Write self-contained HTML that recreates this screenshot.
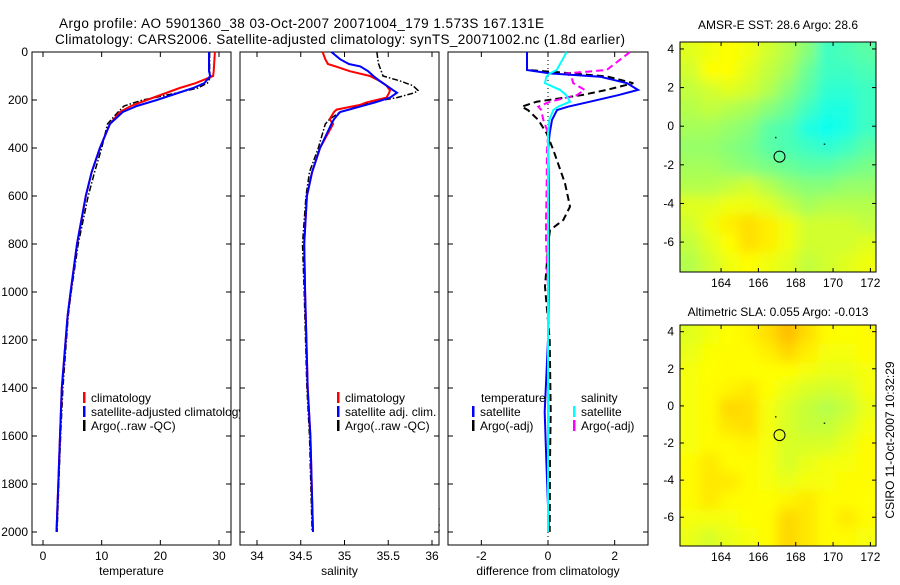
<!DOCTYPE html>
<html><head><meta charset="utf-8"><style>
html,body{margin:0;padding:0;background:#fff;}
svg text{font-family:"Liberation Sans",sans-serif;fill:#000;}
</style></head><body>
<svg id="fig" width="900" height="580" viewBox="0 0 900 580" xmlns="http://www.w3.org/2000/svg">
<rect width="900" height="580" fill="#fff"/>
<text x="59" y="28" font-size="13.5" textLength="485">Argo profile: AO 5901360_38 03-Oct-2007 20071004_179 1.573S 167.131E</text>
<text x="55" y="44" font-size="13.5" textLength="570">Climatology: CARS2006. Satellite-adjusted climatology: synTS_20071002.nc (1.8d earlier)</text>
<text x="778" y="29" font-size="12" text-anchor="middle">AMSR-E SST: 28.6 Argo: 28.6</text>
<text x="778" y="316" font-size="12" text-anchor="middle">Altimetric SLA: 0.055 Argo: -0.013</text>
<text transform="translate(894,440) rotate(-90)" font-size="12" text-anchor="middle">CSIRO 11-Oct-2007 10:32:29</text>
<text x="326" y="517" font-size="12">US ARGO PROJECT</text>
<text x="326" y="531" font-size="12">PI: STEPHEN RISER</text>
</svg>
<script>
// ---- data ----
const tDepth=[0,80,100,130,150,175,200,225,250,300,400,500,600,800,1000,1100,1400,1600,1800,2000];
const tClim=[29.3,29.1,29.0,26.0,23.3,20.5,17.7,15.0,13.1,11.4,9.7,8.3,7.3,5.8,4.7,4.2,3.2,2.9,2.6,2.3];
const tSat=[28.3,28.3,28.5,27.5,25.6,22.5,19.4,16.0,13.6,11.4,9.7,8.3,7.3,5.8,4.7,4.2,3.2,2.9,2.6,2.3];
const tArgo=[28.4,28.4,28.6,28.0,26.4,22.0,17.0,13.8,12.8,11.0,10.0,8.8,7.7,6.0,4.8,4.3,3.4,3.0,2.7,2.4];
const sDepth=[0,30,50,60,80,100,120,140,160,170,190,210,220,240,250,280,300,400,500,600,800,1000,1400,1600,2000];
const sClim=[34.75,34.78,34.81,34.9,35.06,35.29,35.4,35.48,35.52,35.51,35.48,35.25,35.18,34.91,34.88,34.83,34.87,34.72,34.63,34.57,34.54,34.55,34.58,34.61,34.64];
const sSat=[34.85,34.95,35.05,35.18,35.27,35.33,35.4,35.48,35.56,35.6,35.52,35.35,35.25,35.05,34.95,34.88,34.85,34.72,34.63,34.57,34.54,34.55,34.58,34.61,34.64];
const sArgo=[35.37,35.38,35.39,35.4,35.42,35.44,35.63,35.78,35.84,35.8,35.6,35.3,35.2,35.05,34.95,34.83,34.78,34.7,34.6,34.56,34.52,34.54,34.57,34.6,34.63];
const dDepth=[0,75,89,103,130,158,180,207,228,242,283,339,408,547,644,700,742,783,978,1200,1500,1700,2000];
const dTempSat=[-0.63,-0.63,0.05,1.56,2.37,2.7,2.1,1.26,0.6,0.27,0.12,0.05,0.0,0.02,0.03,0.03,0.03,0.03,0.02,0.0,-0.1,-0.05,0.03];
const dTempArgo=[-0.63,-0.63,0.76,1.8,2.56,1.76,1.0,-0.34,-0.79,-0.6,-0.29,-0.04,0.16,0.51,0.66,0.46,0.06,0.02,-0.09,0.05,0.08,0.06,0.05];
const dSalSat=[0.56,0.26,0.06,-0.05,-0.09,0.36,0.55,0.66,0.3,0.16,0.04,0.0,0.0,0.0,0.0,0.0,0.0,0.0,0.0,0.0,0.0,0.0,0.0];
const dSalArgo=[2.46,1.76,0.56,0.7,0.76,1.1,0.86,0.06,-0.29,-0.2,-0.14,0.01,-0.03,-0.04,-0.05,-0.06,-0.06,-0.06,0.0,0.0,0.0,0.0,0.0];
const sstGrid=[
[0.75,0.8,0.85,0.8,0.7,0.6,0.45,0.2,0.25,0.3],
[0.7,0.85,0.85,0.75,0.65,0.55,0.35,0.2,0.2,0.25],
[0.65,0.7,0.75,0.7,0.6,0.45,0.3,0.15,0.15,0.2],
[0.6,0.65,0.6,0.55,0.45,0.35,0.2,0.1,0.1,0.2],
[0.55,0.55,0.5,0.45,0.3,0.25,0.1,0.05,0.1,0.2],
[0.5,0.5,0.45,0.4,0.3,0.25,0.2,0.15,0.2,0.3],
[0.55,0.55,0.5,0.45,0.4,0.35,0.3,0.3,0.35,0.4],
[0.6,0.6,0.65,0.7,0.6,0.5,0.45,0.45,0.5,0.5],
[0.75,0.75,0.8,0.8,0.75,0.65,0.55,0.6,0.6,0.6],
[0.7,0.8,0.9,0.95,0.9,0.8,0.7,0.7,0.7,0.65],
[0.65,0.75,0.85,0.95,0.9,0.8,0.7,0.7,0.7,0.75],
[0.6,0.7,0.8,0.85,0.8,0.75,0.65,0.7,0.75,0.8]];
const slaGrid=[
[0.75,0.8,0.85,0.88,0.95,1.05,0.95,0.86,0.84,0.86],
[0.78,0.84,0.86,0.86,0.9,0.97,0.9,0.82,0.82,0.86],
[0.82,0.85,0.86,0.85,0.85,0.85,0.82,0.78,0.78,0.82],
[0.82,0.86,0.88,0.92,0.85,0.78,0.72,0.7,0.72,0.82],
[0.82,0.86,0.97,0.95,0.82,0.72,0.66,0.6,0.66,0.78],
[0.82,0.86,0.93,0.95,0.82,0.72,0.66,0.66,0.72,0.82],
[0.82,0.86,0.86,0.88,0.82,0.72,0.72,0.72,0.78,0.86],
[0.86,0.92,0.86,0.86,0.82,0.72,0.78,0.82,0.82,0.86],
[0.86,0.92,0.92,0.86,0.82,0.78,0.82,0.82,0.86,0.86],
[0.86,0.92,0.86,0.86,0.85,0.88,0.92,0.86,0.86,0.85],
[0.82,0.82,0.82,0.85,0.86,0.97,0.92,0.86,0.92,0.86],
[0.78,0.72,0.78,0.82,0.86,0.97,0.92,0.86,0.86,0.82]];
const tempTicks=[0,10,20,30];
const salTicks=[34,34.5,35,35.5,36];
const diffTicks=[-2,0,2];
const depthTicks=[0,200,400,600,800,1000,1200,1400,1600,1800,2000];
const lonTicks=[164,166,168,170,172];
const latTicks=[4,2,0,-2,-4,-6];

const svg=document.getElementById('fig');
const NS='http://www.w3.org/2000/svg';
function mk(tag,attrs,parent){const e=document.createElementNS(NS,tag);for(const k in attrs)e.setAttribute(k,attrs[k]);(parent||svg).appendChild(e);return e;}
function lin(d0,d1,r0,r1){return v=>r0+(v-d0)*(r1-r0)/(d1-d0);}
const Y0=52,Y1=545;
const yD=lin(0,2000,52,532);

function panel(name,x0,x1,xs,ticks,fmt,xlabel,showY){
  const g=mk('g',{});
  
  
  mk('rect',{x:x0,y:Y0,width:x1-x0,height:Y1-Y0,fill:'#fff',stroke:'#000','stroke-width':1},g);
  ticks.forEach(t=>{const x=xs(t);
    mk('line',{x1:x,y1:Y1,x2:x,y2:Y1-5,stroke:'#000'},g);
    mk('line',{x1:x,y1:Y0,x2:x,y2:Y0+5,stroke:'#000'},g);
    const tx=mk('text',{x:x,y:Y1+15,'font-size':12,'text-anchor':'middle'},g);tx.textContent=fmt(t);
    
    
  });
  depthTicks.forEach(d=>{const y=yD(d);
    mk('line',{x1:x0,y1:y,x2:x0+5,y2:y,stroke:'#000'},g);
    mk('line',{x1:x1,y1:y,x2:x1-5,y2:y,stroke:'#000'},g);
    if(showY){const tx=mk('text',{x:x0-4,y:y+4,'font-size':12,'text-anchor':'end'},g);tx.textContent=d;
      
      }
  });
  const xl=mk('text',{x:(x0+x1)/2,y:575,'font-size':12,'text-anchor':'middle'},g);xl.textContent=xlabel;
  
  
  return g;
}
function line(g,name,xs,vals,depths,color,w,dash){
  const pts=vals.map((v,i)=>xs(v).toFixed(1)+','+yD(depths[i]).toFixed(1)).join(' ');
  const p=mk('polyline',{points:pts,fill:'none',stroke:color,'stroke-width':w},g);
  if(dash)p.setAttribute('stroke-dasharray',dash);
  
  
}
function legend(g,x,y,items){
  items.forEach((it,i)=>{
    mk('rect',{x:x,y:y+i*14-10,width:2.5,height:11,fill:it[1]},g);
    const t=mk('text',{x:x+8,y:y+i*14,'font-size':12},g);t.textContent=it[0];
    
    
  });
}
// Temperature
const xT=lin(0,30,43,219);
const gT=panel('temperature-panel',32,231,xT,tempTicks,String,'temperature',true);
line(gT,'temp-argo-line',xT,tArgo,tDepth,'#000',1.5,'6,2,1.5,2');
line(gT,'temp-climatology-line',xT,tClim,tDepth,'#f00',2);
line(gT,'temp-satellite-line',xT,tSat,tDepth,'#00f',2);
const clipT=mk('clipPath',{id:'cT'});mk('rect',{x:32,y:52,width:208,height:493},clipT);
const lgT=mk('g',{'clip-path':'url(#cT)'},gT);
legend(lgT,83,402,[['climatology','#f00'],['satellite-adjusted climatology','#00f'],['Argo(..raw -QC)','#000']]);
// Salinity
const xS=lin(34,36,257,432);
const gS=panel('salinity-panel',240,439,xS,salTicks,String,'salinity',false);
line(gS,'sal-argo-line',xS,sArgo,sDepth,'#000',1.5,'6,2,1.5,2');
line(gS,'sal-climatology-line',xS,sClim,sDepth,'#f00',2);
line(gS,'sal-satellite-line',xS,sSat,sDepth,'#00f',2);
legend(gS,337,402,[['climatology','#f00'],['satellite adj. clim.','#00f'],['Argo(..raw -QC)','#000']]);
// Difference
const xDf=lin(-3,3,448,648);
const gD=panel('difference-panel',448,648,xDf,diffTicks,String,'difference from climatology',false);
mk('line',{x1:xDf(0),y1:Y0,x2:xDf(0),y2:Y1,stroke:'#000','stroke-dasharray':'1,3'},gD);
line(gD,'diff-temp-argo-line',xDf,dTempArgo,dDepth,'#000',2,'7,4');
line(gD,'diff-sal-argo-line',xDf,dSalArgo,dDepth,'#f0f',2,'7,4');
line(gD,'diff-temp-satellite-line',xDf,dTempSat,dDepth,'#00f',2);
line(gD,'diff-sal-satellite-line',xDf,dSalSat,dDepth,'#0ff',2);
const tl=mk('text',{x:481,y:402,'font-size':12},gD);tl.textContent='temperature';
const sl=mk('text',{x:581,y:402,'font-size':12},gD);sl.textContent='salinity';
legend(gD,472,416,[['satellite','#00f'],['Argo(-adj)','#000']]);
legend(gD,573,416,[['satellite','#0ff'],['Argo(-adj)','#f0f']]);

// Maps
function col(v){
  let r,g,b;
  if(v<=0.85){const t=v/0.85;r=255*t;g=255;b=255*(1-t);}
  else{r=255;b=0;g=Math.max(170,255-(v-0.85)*330);}
  return 'rgb('+Math.round(r)+','+Math.round(g)+','+Math.round(b)+')';
}
function map(name,top,bottom,grid){
  const g=mk('g',{});
  
  
  const xL=lin(161.8,172.3,680,876), yL=lin(4.36,-7.55,top,bottom);
  const nr=grid.length,nc=grid[0].length;
  const lon0=161.8,lon1=172.3,lat0=4.36,lat1=-7.55;
  const cid='c'+name;
  const cp=mk('clipPath',{id:cid});mk('rect',{x:680,y:top,width:196,height:bottom-top},cp);
  const fid='f'+name;
  const f=mk('filter',{id:fid,x:'-10%',y:'-10%',width:'120%',height:'120%'});mk('feGaussianBlur',{stdDeviation:6},f);
  const cells=mk('g',{'clip-path':'url(#'+cid+')'},g);
  const inner=mk('g',{filter:'url(#'+fid+')'},cells);
  grid.forEach((row,i)=>row.forEach((v,j)=>{
    const xa=xL(lon0+(lon1-lon0)*j/nc), xb=xL(lon0+(lon1-lon0)*(j+1)/nc);
    const ya=yL(lat0+(lat1-lat0)*i/nr), yb=yL(lat0+(lat1-lat0)*(i+1)/nr);
    const r=mk('rect',{x:xa-(j==0?20:0),y:ya-(i==0?20:0),width:xb-xa+1+(j==0||j==nc-1?20:0),height:yb-ya+1+(i==0||i==nr-1?20:0),fill:col(v)},inner);
    
    
  }));
  mk('rect',{x:680,y:top,width:196,height:bottom-top,fill:'none',stroke:'#000'},g);
  lonTicks.forEach(t=>{const x=xL(t);
    mk('line',{x1:x,y1:bottom,x2:x,y2:bottom-4,stroke:'#000'},g);
    mk('line',{x1:x,y1:top,x2:x,y2:top+4,stroke:'#000'},g);
    const tx=mk('text',{x:x,y:bottom+15,'font-size':12,'text-anchor':'middle'},g);tx.textContent=t;
    
    });
  latTicks.forEach(t=>{const y=yL(t);
    mk('line',{x1:680,y1:y,x2:684,y2:y,stroke:'#000'},g);
    mk('line',{x1:876,y1:y,x2:872,y2:y,stroke:'#000'},g);
    const tx=mk('text',{x:674,y:y+4,'font-size':12,'text-anchor':'end'},g);tx.textContent=t;
    
    });
  const c=mk('circle',{cx:xL(167.131),cy:yL(-1.573),r:5.5,fill:'none',stroke:'#000','stroke-width':1},g);
  
  
  mk('rect',{x:xL(166.9),y:yL(-0.55),width:1.2,height:1.5,fill:'#000'},g);
  mk('rect',{x:xL(169.5),y:yL(-0.9),width:1.5,height:1.2,fill:'#000'},g);
}
map('sst-map',42,272,sstGrid);
map('sla-map',325,546,slaGrid);
</script>
</body></html>
